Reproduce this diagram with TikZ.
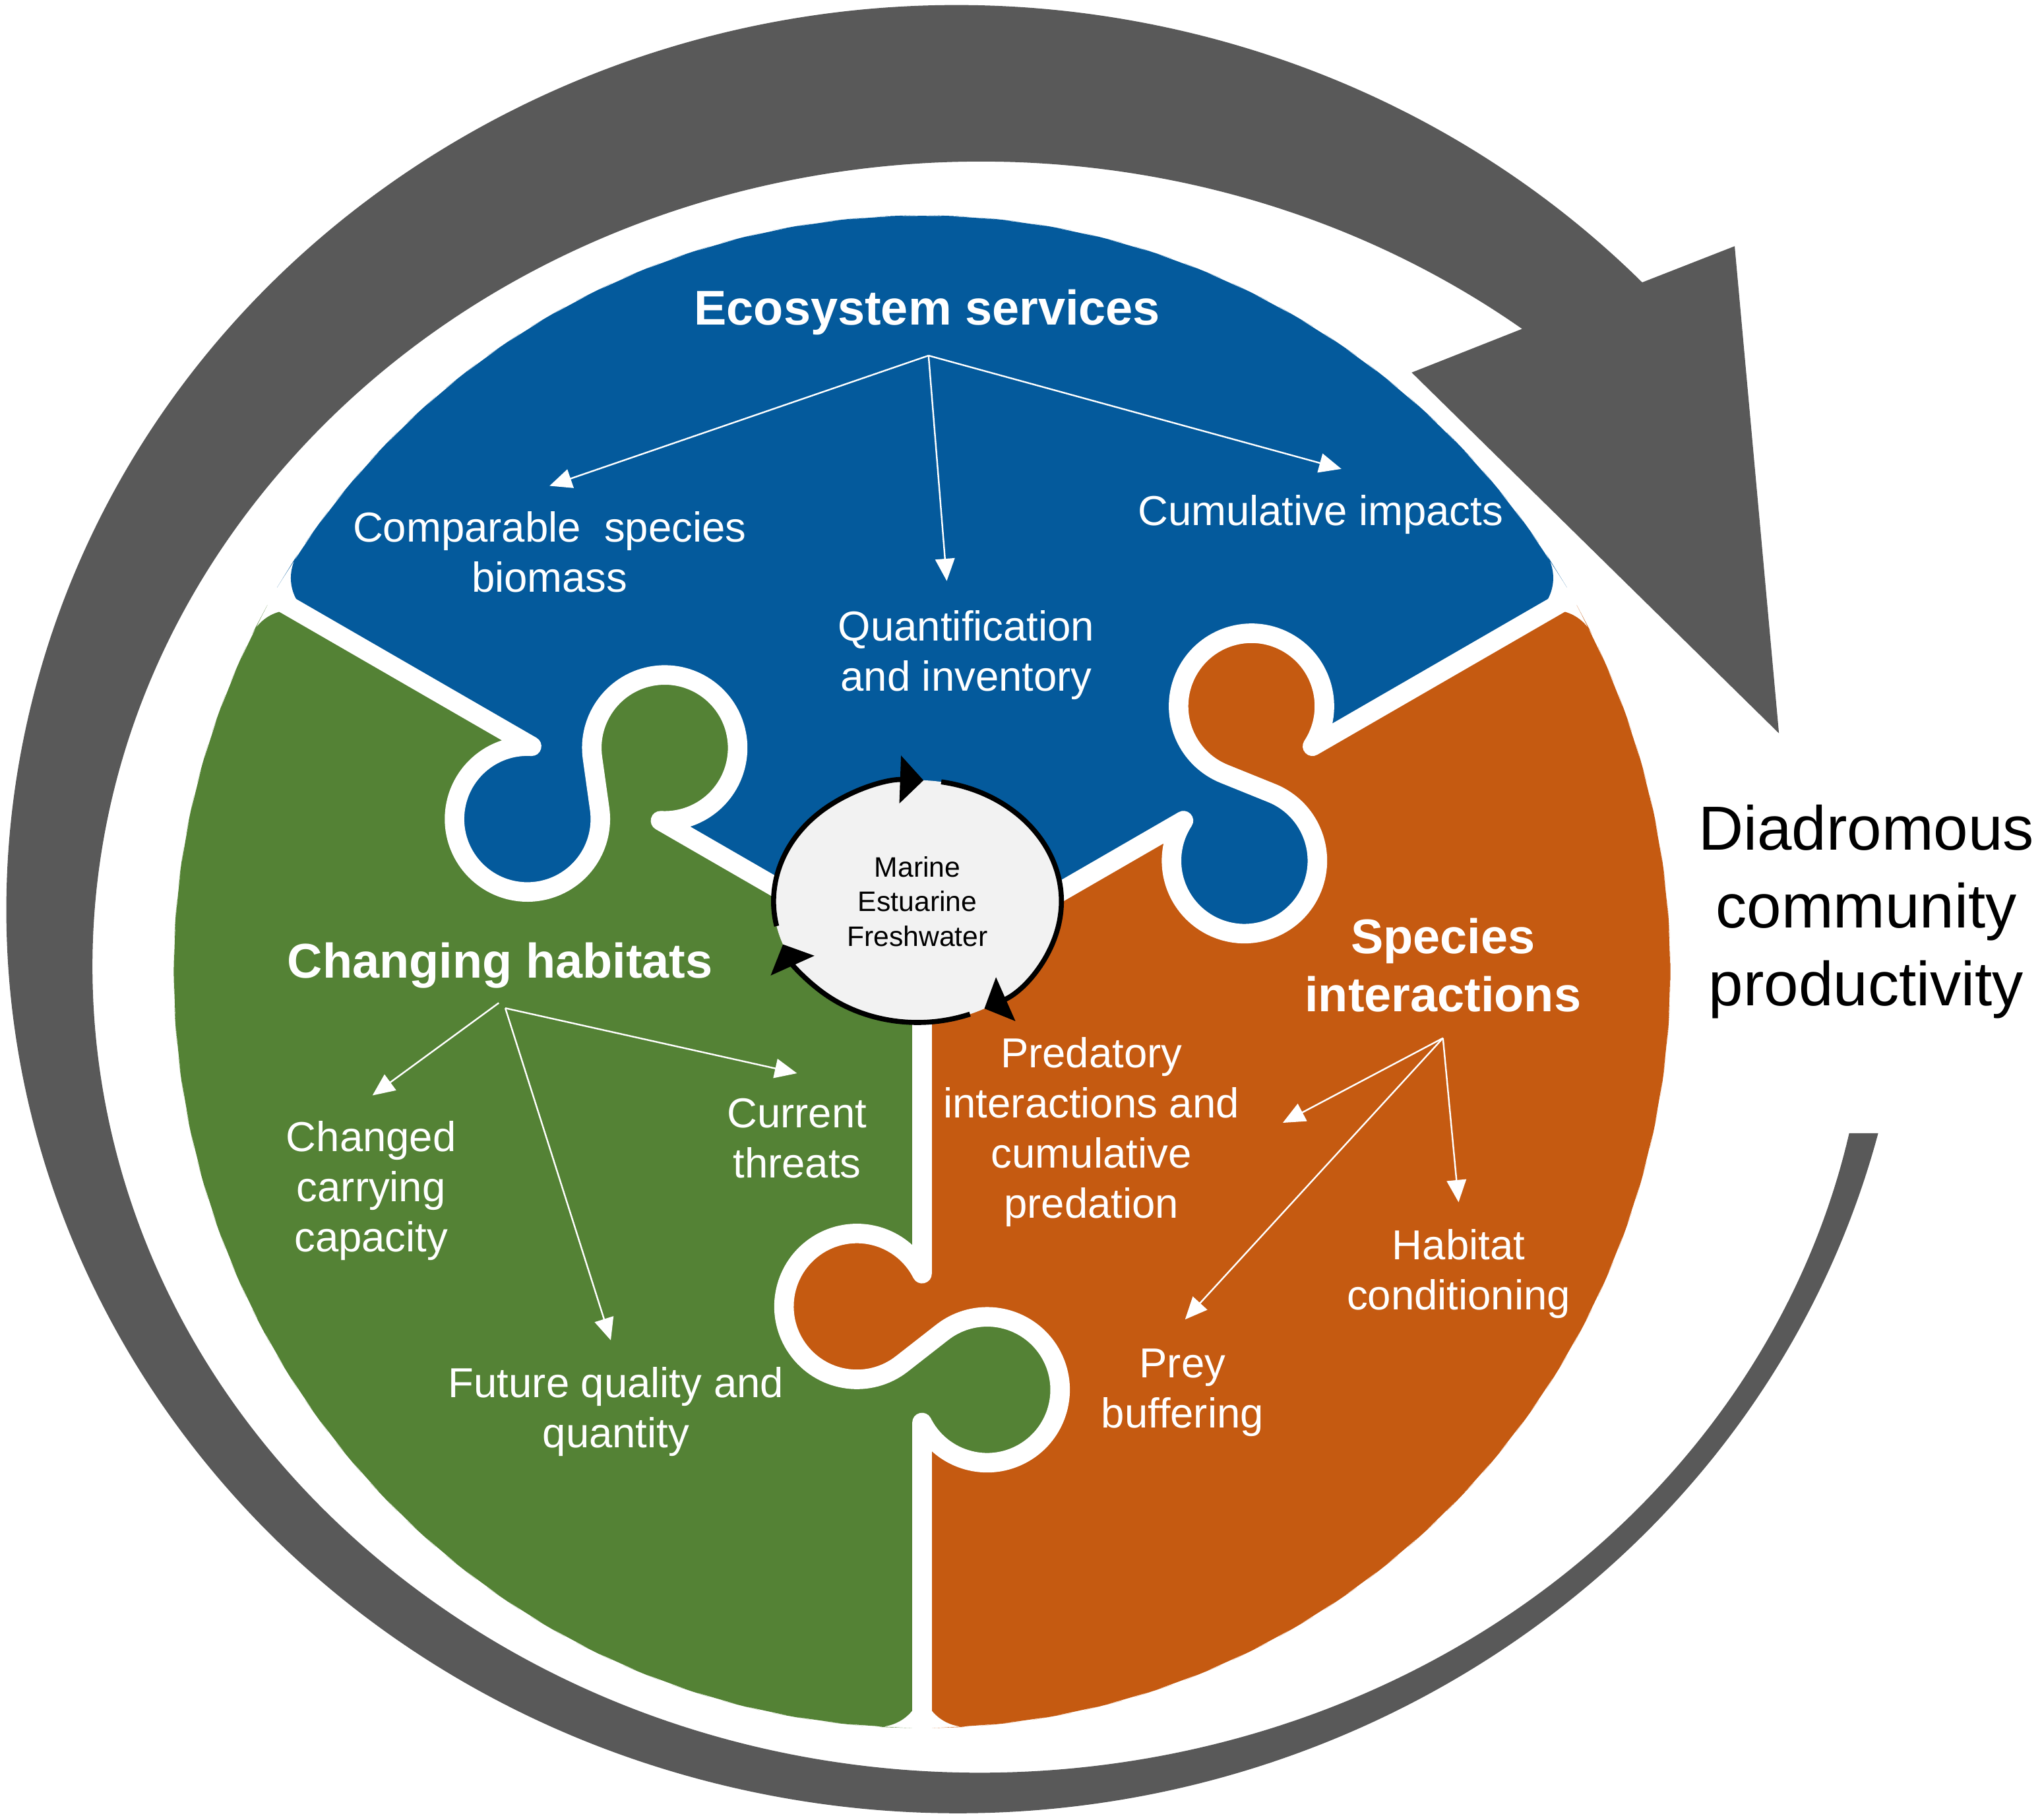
\documentclass[tikz,border=0pt]{standalone}
\usepackage{fontspec}
\setmainfont{Liberation Sans}
\usetikzlibrary{arrows.meta,calc}
\definecolor{esblue}{HTML}{045A9C}
\definecolor{chgreen}{HTML}{548235}
\definecolor{siorange}{HTML}{C55A11}
\definecolor{ringgray}{HTML}{595959}
\definecolor{hubfill}{HTML}{F2F2F2}
\newcommand\puzzleknob[3]{%
  \begin{scope}[rotate=#1]
    \fill[#2] (346.16,0) arc[start angle=63.3, end angle=-218, radius=56] -- (289,0) -- (289,3) -- (346.16,3) -- cycle;
    \fill[#3] (289,0) -- (301.13,15.52) arc[start angle=-38, end angle=243.3, radius=56] -- (231.84,-3) -- (289,-3) -- cycle;
    \draw[gapline] (596,0) -- (346.16,0) arc[start angle=63.3, end angle=-218, radius=56]
      -- (301.13,15.52) arc[start angle=-38, end angle=243.3, radius=56] -- (0,0);
  \end{scope}}
\tikzset{
  lbl/.style={text=white, align=center, inner sep=0pt, font=\fontsize{18.3}{21.9}\selectfont},
  headlbl/.style={text=white, align=center, inner sep=0pt, font=\fontsize{21.3}{25.6}\selectfont\bfseries},
  ptr/.style={draw=white, line width=0.7pt, -{Triangle[width=8.5pt,length=9.7pt]}},
  gapline/.style={draw=white, line width=0.3cm, line join=round},
  hubarrow/.style={draw=black, line width=2.2pt, -{Triangle[width=20.5pt,length=10.2pt]}},
}
\begin{document}
\begin{tikzpicture}[x=0.02cm, y=-0.02cm]
\useasboundingbox (0,0) rectangle (1568,1397);
\fill[white] (0,0) rectangle (1568,1397);
% ---------- puzzle pieces ----------
\begin{scope}[shift={(708,746)}]
  \fill[esblue, rounded corners=20] (0,0) -- (210:575 and 581)
    \foreach \a in {214,218,...,326} { -- (\a:575 and 581) } -- (330:575 and 581) -- cycle;
  \fill[siorange, rounded corners=20] (0,0) -- (330:575 and 581)
    \foreach \a in {334,338,...,446} { -- (\a:575 and 581) } -- (450:575 and 581) -- cycle;
  \fill[chgreen, rounded corners=20] (0,0) -- (90:575 and 581)
    \foreach \a in {94,98,...,206} { -- (\a:575 and 581) } -- (210:575 and 581) -- cycle;
  \puzzleknob{150}{esblue}{chgreen}
  \puzzleknob{30}{siorange}{esblue}
  \puzzleknob{-90}{chgreen}{siorange}
\end{scope}
% ---------- central hub ----------
\fill[hubfill] (704.5,692) ellipse[x radius=110.5, y radius=93];
\draw[hubarrow] ($(704.5,692)+(168.2:110.5 and 93)$) arc[start angle=168.2, end angle=272.4, x radius=110.5, y radius=93];
\draw[hubarrow] ($(704.5,692)+(279.5:110.5 and 93)$) arc[start angle=279.5, end angle=422.3, x radius=110.5, y radius=93];
\draw[hubarrow] ($(704.5,692)+(68.6:110.5 and 93)$) arc[start angle=68.6, end angle=159.2, x radius=110.5, y radius=93];
\node[align=center, inner sep=0pt, font=\fontsize{12.3}{15.1}\selectfont] (hub) at (704.5,692) {Marine\\Estuarine\\Freshwater};
% ---------- outer ring arrow ----------
\fill[ringgray] ($(752.8,742.5)+(11.9:681.8 and 618.5)$) -- ($(735,698)+(14.35:730 and 694)$)
  arc[start angle=14.35, end angle=316.1, x radius=730, y radius=694]
  -- (1332,189) -- (1366,563) -- (1084,286)
  -- ($(752.8,742.5)+(307.6:681.8 and 618.5)$)
  arc[start angle=307.6, end angle=11.9, x radius=681.8, y radius=618.5] -- cycle;
% ---------- Ecosystem services ----------
\node[headlbl] (es) at (712,240) {Ecosystem services};
\node[lbl] (cmp) at (422,424) {Comparable\ \ species\\biomass};
\node[lbl] (qnt) at (742,503) {Quantification\\and inventory};
\node[lbl] (cum) at (1014,395) {Cumulative impacts};
\coordinate (esroot) at (713,273);
\coordinate (cmptip) at (422,373);
\coordinate (qnttip) at (727,446);
\coordinate (cumtip) at (1030,360);
\draw[ptr] (esroot) -- (cmptip);
\draw[ptr] (esroot) -- (qnttip);
\draw[ptr] (esroot) -- (cumtip);
% ---------- Changing habitats ----------
\node[headlbl] (ch) at (384,741) {Changing habitats};
\node[lbl] (chg) at (285,914) {Changed\\carrying\\capacity};
\node[lbl] (cur) at (612,874) {Current\\threats};
\node[lbl] (fut) at (473,1084) {Future quality and\\quantity};
\coordinate (chroota) at (383,770);
\coordinate (chrootb) at (388,774);
\coordinate (chgtip) at (286,841);
\coordinate (futtip) at (469,1029);
\coordinate (curtip) at (612,824);
\draw[ptr] (chroota) -- (chgtip);
\draw[ptr] (chrootb) -- (futtip);
\draw[ptr] (chrootb) -- (curtip);
% ---------- Species interactions ----------
\node[headlbl] (si) at (1108,741) {Species\\interactions};
\node[lbl] (pred) at (838,869) {Predatory\\interactions and\\cumulative\\predation};
\node[lbl] (prey) at (908,1069) {Prey\\buffering};
\node[lbl] (hab) at (1120,978) {Habitat\\conditioning};
\coordinate (siroot) at (1108,797);
\coordinate (predtip) at (985,862);
\coordinate (preytip) at (910,1013);
\coordinate (habtip) at (1120,923);
\draw[ptr] (siroot) -- (predtip);
\draw[ptr] (siroot) -- (preytip);
\draw[ptr] (siroot) -- (habtip);
% ---------- title ----------
\node[align=center, inner sep=0pt, font=\fontsize{27.2}{34.1}\selectfont] (title) at (1433,700) {Diadromous\\community\\productivity};
\end{tikzpicture}
\end{document}
